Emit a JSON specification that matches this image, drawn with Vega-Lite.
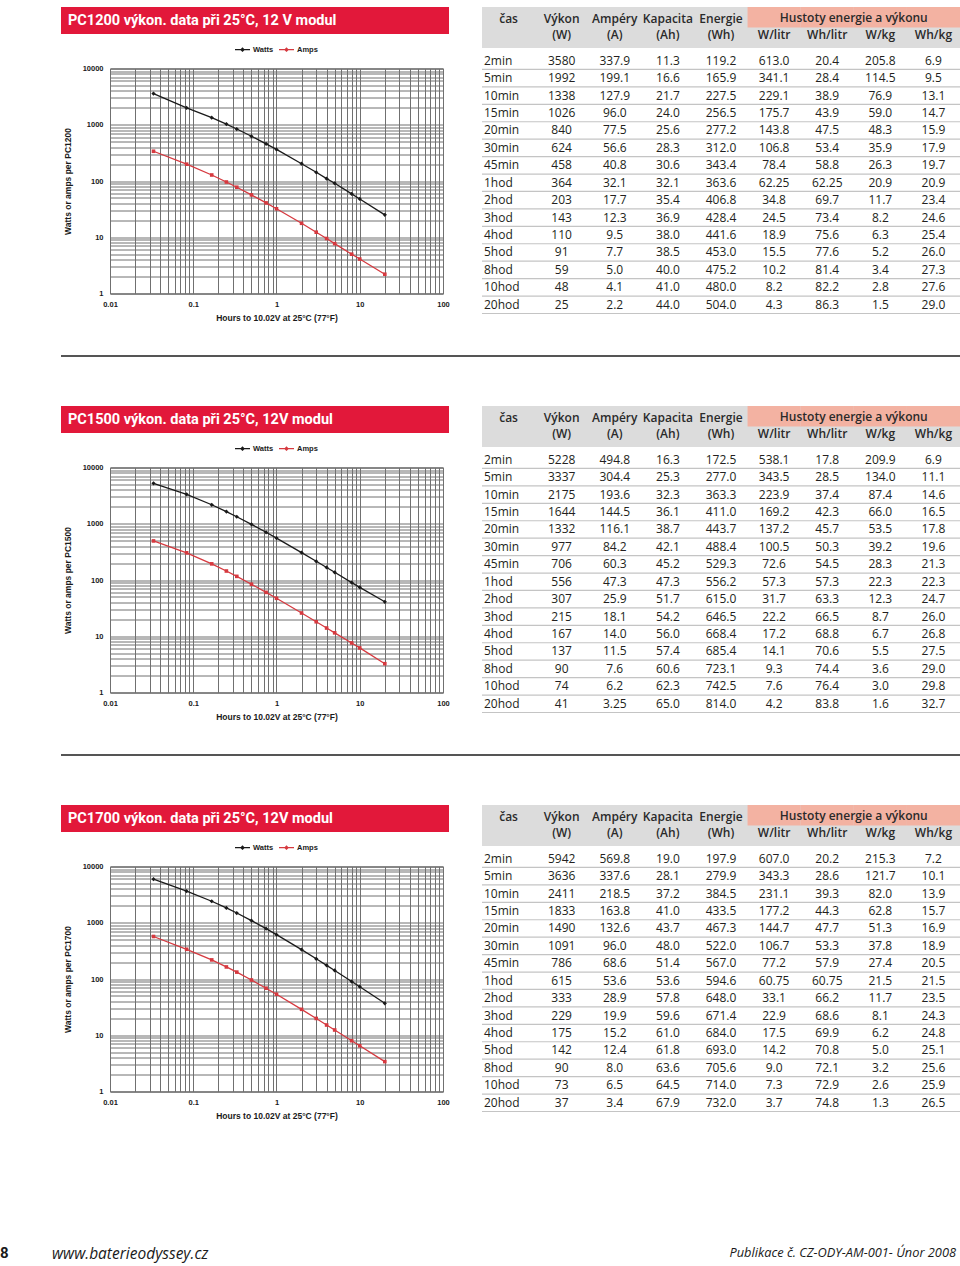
{
"$schema": "https://vega.github.io/schema/vega-lite/v6.json",
"background": "white",
"padding": {"left": 0, "top": 7, "right": 0, "bottom": 0},
"autosize": {"type": "pad"},
"spacing": 33,
"datasets": {
"hdr": [
{"c":"t","l":"a","s":"čas"},{"c":"W","l":"a","s":"Výkon"},{"c":"W","l":"b","s":"(W)"},{"c":"A","l":"a","s":"Ampéry"},{"c":"A","l":"b","s":"(A)"},{"c":"Ah","l":"a","s":"Kapacita"},{"c":"Ah","l":"b","s":"(Ah)"},{"c":"Wh","l":"a","s":"Energie"},{"c":"Wh","l":"b","s":"(Wh)"},{"c":"Wl","l":"b","s":"W/litr"},{"c":"Whl","l":"b","s":"Wh/litr"},{"c":"Wkg","l":"b","s":"W/kg"},{"c":"Whkg","l":"b","s":"Wh/kg"}
],
"pc1200": [
{"t":"2min","h":0.0333,"W":"3580","A":"337.9","Ah":"11.3","Wh":"119.2","Wl":"613.0","Whl":"20.4","Wkg":"205.8","Whkg":"6.9"},
{"t":"5min","h":0.0833,"W":"1992","A":"199.1","Ah":"16.6","Wh":"165.9","Wl":"341.1","Whl":"28.4","Wkg":"114.5","Whkg":"9.5"},
{"t":"10min","h":0.1667,"W":"1338","A":"127.9","Ah":"21.7","Wh":"227.5","Wl":"229.1","Whl":"38.9","Wkg":"76.9","Whkg":"13.1"},
{"t":"15min","h":0.25,"W":"1026","A":"96.0","Ah":"24.0","Wh":"256.5","Wl":"175.7","Whl":"43.9","Wkg":"59.0","Whkg":"14.7"},
{"t":"20min","h":0.3333,"W":"840","A":"77.5","Ah":"25.6","Wh":"277.2","Wl":"143.8","Whl":"47.5","Wkg":"48.3","Whkg":"15.9"},
{"t":"30min","h":0.5,"W":"624","A":"56.6","Ah":"28.3","Wh":"312.0","Wl":"106.8","Whl":"53.4","Wkg":"35.9","Whkg":"17.9"},
{"t":"45min","h":0.75,"W":"458","A":"40.8","Ah":"30.6","Wh":"343.4","Wl":"78.4","Whl":"58.8","Wkg":"26.3","Whkg":"19.7"},
{"t":"1hod","h":1,"W":"364","A":"32.1","Ah":"32.1","Wh":"363.6","Wl":"62.25","Whl":"62.25","Wkg":"20.9","Whkg":"20.9"},
{"t":"2hod","h":2,"W":"203","A":"17.7","Ah":"35.4","Wh":"406.8","Wl":"34.8","Whl":"69.7","Wkg":"11.7","Whkg":"23.4"},
{"t":"3hod","h":3,"W":"143","A":"12.3","Ah":"36.9","Wh":"428.4","Wl":"24.5","Whl":"73.4","Wkg":"8.2","Whkg":"24.6"},
{"t":"4hod","h":4,"W":"110","A":"9.5","Ah":"38.0","Wh":"441.6","Wl":"18.9","Whl":"75.6","Wkg":"6.3","Whkg":"25.4"},
{"t":"5hod","h":5,"W":"91","A":"7.7","Ah":"38.5","Wh":"453.0","Wl":"15.5","Whl":"77.6","Wkg":"5.2","Whkg":"26.0"},
{"t":"8hod","h":8,"W":"59","A":"5.0","Ah":"40.0","Wh":"475.2","Wl":"10.2","Whl":"81.4","Wkg":"3.4","Whkg":"27.3"},
{"t":"10hod","h":10,"W":"48","A":"4.1","Ah":"41.0","Wh":"480.0","Wl":"8.2","Whl":"82.2","Wkg":"2.8","Whkg":"27.6"},
{"t":"20hod","h":20,"W":"25","A":"2.2","Ah":"44.0","Wh":"504.0","Wl":"4.3","Whl":"86.3","Wkg":"1.5","Whkg":"29.0"}
],
"pc1500": [
{"t":"2min","h":0.0333,"W":"5228","A":"494.8","Ah":"16.3","Wh":"172.5","Wl":"538.1","Whl":"17.8","Wkg":"209.9","Whkg":"6.9"},
{"t":"5min","h":0.0833,"W":"3337","A":"304.4","Ah":"25.3","Wh":"277.0","Wl":"343.5","Whl":"28.5","Wkg":"134.0","Whkg":"11.1"},
{"t":"10min","h":0.1667,"W":"2175","A":"193.6","Ah":"32.3","Wh":"363.3","Wl":"223.9","Whl":"37.4","Wkg":"87.4","Whkg":"14.6"},
{"t":"15min","h":0.25,"W":"1644","A":"144.5","Ah":"36.1","Wh":"411.0","Wl":"169.2","Whl":"42.3","Wkg":"66.0","Whkg":"16.5"},
{"t":"20min","h":0.3333,"W":"1332","A":"116.1","Ah":"38.7","Wh":"443.7","Wl":"137.2","Whl":"45.7","Wkg":"53.5","Whkg":"17.8"},
{"t":"30min","h":0.5,"W":"977","A":"84.2","Ah":"42.1","Wh":"488.4","Wl":"100.5","Whl":"50.3","Wkg":"39.2","Whkg":"19.6"},
{"t":"45min","h":0.75,"W":"706","A":"60.3","Ah":"45.2","Wh":"529.3","Wl":"72.6","Whl":"54.5","Wkg":"28.3","Whkg":"21.3"},
{"t":"1hod","h":1,"W":"556","A":"47.3","Ah":"47.3","Wh":"556.2","Wl":"57.3","Whl":"57.3","Wkg":"22.3","Whkg":"22.3"},
{"t":"2hod","h":2,"W":"307","A":"25.9","Ah":"51.7","Wh":"615.0","Wl":"31.7","Whl":"63.3","Wkg":"12.3","Whkg":"24.7"},
{"t":"3hod","h":3,"W":"215","A":"18.1","Ah":"54.2","Wh":"646.5","Wl":"22.2","Whl":"66.5","Wkg":"8.7","Whkg":"26.0"},
{"t":"4hod","h":4,"W":"167","A":"14.0","Ah":"56.0","Wh":"668.4","Wl":"17.2","Whl":"68.8","Wkg":"6.7","Whkg":"26.8"},
{"t":"5hod","h":5,"W":"137","A":"11.5","Ah":"57.4","Wh":"685.4","Wl":"14.1","Whl":"70.6","Wkg":"5.5","Whkg":"27.5"},
{"t":"8hod","h":8,"W":"90","A":"7.6","Ah":"60.6","Wh":"723.1","Wl":"9.3","Whl":"74.4","Wkg":"3.6","Whkg":"29.0"},
{"t":"10hod","h":10,"W":"74","A":"6.2","Ah":"62.3","Wh":"742.5","Wl":"7.6","Whl":"76.4","Wkg":"3.0","Whkg":"29.8"},
{"t":"20hod","h":20,"W":"41","A":"3.25","Ah":"65.0","Wh":"814.0","Wl":"4.2","Whl":"83.8","Wkg":"1.6","Whkg":"32.7"}
],
"pc1700": [
{"t":"2min","h":0.0333,"W":"5942","A":"569.8","Ah":"19.0","Wh":"197.9","Wl":"607.0","Whl":"20.2","Wkg":"215.3","Whkg":"7.2"},
{"t":"5min","h":0.0833,"W":"3636","A":"337.6","Ah":"28.1","Wh":"279.9","Wl":"343.3","Whl":"28.6","Wkg":"121.7","Whkg":"10.1"},
{"t":"10min","h":0.1667,"W":"2411","A":"218.5","Ah":"37.2","Wh":"384.5","Wl":"231.1","Whl":"39.3","Wkg":"82.0","Whkg":"13.9"},
{"t":"15min","h":0.25,"W":"1833","A":"163.8","Ah":"41.0","Wh":"433.5","Wl":"177.2","Whl":"44.3","Wkg":"62.8","Whkg":"15.7"},
{"t":"20min","h":0.3333,"W":"1490","A":"132.6","Ah":"43.7","Wh":"467.3","Wl":"144.7","Whl":"47.7","Wkg":"51.3","Whkg":"16.9"},
{"t":"30min","h":0.5,"W":"1091","A":"96.0","Ah":"48.0","Wh":"522.0","Wl":"106.7","Whl":"53.3","Wkg":"37.8","Whkg":"18.9"},
{"t":"45min","h":0.75,"W":"786","A":"68.6","Ah":"51.4","Wh":"567.0","Wl":"77.2","Whl":"57.9","Wkg":"27.4","Whkg":"20.5"},
{"t":"1hod","h":1,"W":"615","A":"53.6","Ah":"53.6","Wh":"594.6","Wl":"60.75","Whl":"60.75","Wkg":"21.5","Whkg":"21.5"},
{"t":"2hod","h":2,"W":"333","A":"28.9","Ah":"57.8","Wh":"648.0","Wl":"33.1","Whl":"66.2","Wkg":"11.7","Whkg":"23.5"},
{"t":"3hod","h":3,"W":"229","A":"19.9","Ah":"59.6","Wh":"671.4","Wl":"22.9","Whl":"68.6","Wkg":"8.1","Whkg":"24.3"},
{"t":"4hod","h":4,"W":"175","A":"15.2","Ah":"61.0","Wh":"684.0","Wl":"17.5","Whl":"69.9","Wkg":"6.2","Whkg":"24.8"},
{"t":"5hod","h":5,"W":"142","A":"12.4","Ah":"61.8","Wh":"693.0","Wl":"14.2","Whl":"70.8","Wkg":"5.0","Whkg":"25.1"},
{"t":"8hod","h":8,"W":"90","A":"8.0","Ah":"63.6","Wh":"705.6","Wl":"9.0","Whl":"72.1","Wkg":"3.2","Whkg":"25.6"},
{"t":"10hod","h":10,"W":"73","A":"6.5","Ah":"64.5","Wh":"714.0","Wl":"7.3","Whl":"72.9","Wkg":"2.6","Whkg":"25.9"},
{"t":"20hod","h":20,"W":"37","A":"3.4","Ah":"67.9","Wh":"732.0","Wl":"3.7","Whl":"74.8","Wkg":"1.3","Whkg":"26.5"}
]
},
"vconcat": [
{"spacing": 31, "hconcat": [
 {"width": 30, "height": 1, "data": {"values": [{}]}, "mark": {"type": "text", "text": "", "fontSize": 1, "baseline": "top"}},
 {"spacing": 6.5, "vconcat": [
  {"width": 388, "height": 27, "view": {"fill": "#e2183a", "stroke": null}, "data": {"values": [{"s": "PC1200 výkon. data při 25°C, 12 V modul"}]},
   "mark": {"type": "text", "align": "left", "baseline": "middle", "dx": 7, "color": "white", "font": "Liberation Sans Narrow, Roboto, sans-serif", "fontSize": 14.5, "fontWeight": "bold"},
   "encoding": {"text": {"field": "s"}, "x": {"datum": 0, "type": "quantitative", "scale": {"domain": [0, 1], "nice": false}, "axis": null}, "y": {"datum": 0.5, "type": "quantitative", "scale": {"domain": [0, 1], "nice": false}, "axis": null}}},
  {"spacing": 0, "resolve": {"scale": {"color": "independent"}, "legend": {"color": "independent"}}, "hconcat": [
  {"width": 1, "height": 1, "data": {"values": [{}]}, "mark": {"type": "text", "text": "", "fontSize": 1, "baseline": "top"}},
  {"width": 333, "height": 225, "view": {"stroke": "#3a3a3a", "strokeWidth": 1, "fill": "white"}, "data": {"name": "pc1200"},
   "transform": [{"fold": ["W", "A"], "as": ["ser", "val"]}],
   "encoding": {
    "x": {"field": "h", "type": "quantitative", "scale": {"type": "log", "domain": [0.01, 100], "nice": false},
     "axis": {"values": [0.01,0.02,0.03,0.04,0.05,0.06,0.07,0.08,0.09,0.1,0.2,0.3,0.4,0.5,0.6,0.7,0.8,0.9,1,2,3,4,5,6,7,8,9,10,20,30,40,50,60,70,80,90,100], "labelExpr": "indexof([0.01,0.1,1,10,100], datum.value) >= 0 ? datum.value + '' : ''", "title": "Hours to 10.02V at 25°C (77°F)"}},
    "y": {"field": "val", "type": "quantitative", "scale": {"type": "log", "domain": [1, 10000], "nice": false},
     "axis": {"values": [1,2,3,4,5,6,7,8,9,10,20,30,40,50,60,70,80,90,100,200,300,400,500,600,700,800,900,1000,2000,3000,4000,5000,6000,7000,8000,9000,10000], "labelExpr": "indexof([1,10,100,1000,10000], datum.value) >= 0 ? datum.value + '' : ''", "title": "Watts or amps per PC1200"}}
   },
   "layer": [
    {"mark": {"type": "line", "strokeWidth": 1.3}, "encoding": {"color": {"field": "ser", "type": "nominal", "scale": {"domain": ["W", "A"], "range": ["#1a1a1a", "#d6393f"]},
     "legend": {"orient": "none", "legendX": 124, "legendY": -27.5, "direction": "horizontal", "title": null, "padding": 0, "labelExpr": "datum.value == 'W' ? 'Watts' : 'Amps'", "labelFont": "Liberation Sans", "labelFontSize": 7.5, "labelFontWeight": "bold", "labelColor": "#1a1a1a", "symbolSize": 225, "symbolType": "M-1,0H1M0,-0.2L0.2,0L0,0.2L-0.2,0Z", "symbolStrokeWidth": 1.3, "labelOffset": 2, "columnPadding": 2}}}},
    {"transform": [{"filter": "datum.ser == 'W'"}], "mark": {"type": "point", "shape": "diamond", "filled": true, "opacity": 1, "size": 18, "color": "#1a1a1a"}},
    {"transform": [{"filter": "datum.ser == 'A'"}], "mark": {"type": "point", "shape": "square", "filled": true, "opacity": 1, "size": 13, "color": "#d6393f"}}
   ]}
  ]}
 ]},
 {"spacing": 4, "vconcat": [
  {"width": 478, "height": 41, "view": {"fill": "#dcdcdc", "stroke": null}, "data": {"name": "hdr"},
   "encoding": {"x": {"field": "c", "type": "nominal", "scale": {"type": "band", "domain": ["t","W","A","Ah","Wh","Wl","Whl","Wkg","Whkg"], "paddingInner": 0, "paddingOuter": 0}, "axis": null},
    "y": {"field": "l", "type": "nominal", "scale": {"type": "band", "domain": ["a", "b"], "paddingInner": 0, "paddingOuter": 0}, "axis": null}},
   "layer": [
    {"transform": [{"filter": "datum.l == 'b' && indexof(['Wl','Whl','Wkg','Whkg'], datum.c) >= 0"}], "mark": {"type": "rect", "color": "#f3b2a2"}, "encoding": {"y": {"datum": "a"}}},
    {"transform": [{"filter": "datum.l == 'a'"}], "mark": {"type": "text", "font": "Open Sans", "fontSize": 12, "fontWeight": 600, "color": "#2a2a2a", "baseline": "middle", "dy": 2}, "encoding": {"text": {"field": "s"}}},
    {"transform": [{"filter": "datum.l == 'b'"}], "mark": {"type": "text", "font": "Open Sans", "fontSize": 12, "fontWeight": 600, "color": "#2a2a2a", "baseline": "middle", "dy": -2.5}, "encoding": {"text": {"field": "s"}}},
    {"data": {"values": [{"s": "Hustoty energie a výkonu"}]}, "mark": {"type": "text", "font": "Open Sans", "fontSize": 12, "fontWeight": 600, "color": "#2a2a2a", "baseline": "middle", "dy": 0.5}, "encoding": {"x": {"datum": "Wkg", "bandPosition": 0}, "y": {"datum": "a"}, "text": {"field": "s"}}}
   ]},
  {"width": 478, "height": 261.5, "data": {"name": "pc1200"},
   "encoding": {"y": {"field": "t", "type": "nominal", "scale": {"type": "band", "domain": ["2min","5min","10min","15min","20min","30min","45min","1hod","2hod","3hod","4hod","5hod","8hod","10hod","20hod"], "paddingInner": 0, "paddingOuter": 0}, "axis": null}},
   "layer": [
    {"mark": {"type": "rule", "color": "#c4c4c4", "strokeWidth": 1.2}, "encoding": {"y": {"field": "t", "type": "nominal", "bandPosition": 1}}},
    {"mark": {"type": "text", "align": "left", "dx": 2, "baseline": "middle", "font": "Open Sans", "fontSize": 12, "color": "#231f20"}, "encoding": {"x": {"datum": "t", "bandPosition": 0, "scale": {"type": "band", "domain": ["t","W","A","Ah","Wh","Wl","Whl","Wkg","Whkg"], "paddingInner": 0, "paddingOuter": 0}, "axis": null}, "text": {"field": "t"}}},
    {"transform": [{"fold": ["W","A","Ah","Wh","Wl","Whl","Wkg","Whkg"], "as": ["k", "v"]}], "mark": {"type": "text", "baseline": "middle", "font": "Open Sans", "fontSize": 12, "color": "#231f20"}, "encoding": {"x": {"field": "k", "type": "nominal", "scale": {"type": "band", "domain": ["t","W","A","Ah","Wh","Wl","Whl","Wkg","Whkg"], "paddingInner": 0, "paddingOuter": 0}, "axis": null}, "text": {"field": "v"}}}
   ]}
 ]}
]},
{"spacing": 31, "hconcat": [
 {"width": 29, "height": 1, "data": {"values": [{}]}, "mark": {"type": "text", "text": "", "fontSize": 1, "baseline": "top"}},
 {"width": 900, "height": 17, "data": {"values": [{}]}, "mark": {"type": "rule", "color": "#555555", "strokeWidth": 2}, "encoding": {"y": {"datum": 1, "type": "quantitative", "scale": {"domain": [0, 1], "nice": false}, "axis": null}}}
]},
{"spacing": 31, "hconcat": [
 {"width": 30, "height": 1, "data": {"values": [{}]}, "mark": {"type": "text", "text": "", "fontSize": 1, "baseline": "top"}},
 {"spacing": 6.5, "vconcat": [
  {"width": 388, "height": 27, "view": {"fill": "#e2183a", "stroke": null}, "data": {"values": [{"s": "PC1500 výkon. data při 25°C, 12V modul"}]},
   "mark": {"type": "text", "align": "left", "baseline": "middle", "dx": 7, "color": "white", "font": "Liberation Sans Narrow, Roboto, sans-serif", "fontSize": 14.5, "fontWeight": "bold"},
   "encoding": {"text": {"field": "s"}, "x": {"datum": 0, "type": "quantitative", "scale": {"domain": [0, 1], "nice": false}, "axis": null}, "y": {"datum": 0.5, "type": "quantitative", "scale": {"domain": [0, 1], "nice": false}, "axis": null}}},
  {"spacing": 0, "resolve": {"scale": {"color": "independent"}, "legend": {"color": "independent"}}, "hconcat": [
  {"width": 1, "height": 1, "data": {"values": [{}]}, "mark": {"type": "text", "text": "", "fontSize": 1, "baseline": "top"}},
  {"width": 333, "height": 225, "view": {"stroke": "#3a3a3a", "strokeWidth": 1, "fill": "white"}, "data": {"name": "pc1500"},
   "transform": [{"fold": ["W", "A"], "as": ["ser", "val"]}],
   "encoding": {
    "x": {"field": "h", "type": "quantitative", "scale": {"type": "log", "domain": [0.01, 100], "nice": false},
     "axis": {"values": [0.01,0.02,0.03,0.04,0.05,0.06,0.07,0.08,0.09,0.1,0.2,0.3,0.4,0.5,0.6,0.7,0.8,0.9,1,2,3,4,5,6,7,8,9,10,20,30,40,50,60,70,80,90,100], "labelExpr": "indexof([0.01,0.1,1,10,100], datum.value) >= 0 ? datum.value + '' : ''", "title": "Hours to 10.02V at 25°C (77°F)"}},
    "y": {"field": "val", "type": "quantitative", "scale": {"type": "log", "domain": [1, 10000], "nice": false},
     "axis": {"values": [1,2,3,4,5,6,7,8,9,10,20,30,40,50,60,70,80,90,100,200,300,400,500,600,700,800,900,1000,2000,3000,4000,5000,6000,7000,8000,9000,10000], "labelExpr": "indexof([1,10,100,1000,10000], datum.value) >= 0 ? datum.value + '' : ''", "title": "Watts or amps per PC1500"}}
   },
   "layer": [
    {"mark": {"type": "line", "strokeWidth": 1.3}, "encoding": {"color": {"field": "ser", "type": "nominal", "scale": {"domain": ["W", "A"], "range": ["#1a1a1a", "#d6393f"]},
     "legend": {"orient": "none", "legendX": 124, "legendY": -27.5, "direction": "horizontal", "title": null, "padding": 0, "labelExpr": "datum.value == 'W' ? 'Watts' : 'Amps'", "labelFont": "Liberation Sans", "labelFontSize": 7.5, "labelFontWeight": "bold", "labelColor": "#1a1a1a", "symbolSize": 225, "symbolType": "M-1,0H1M0,-0.2L0.2,0L0,0.2L-0.2,0Z", "symbolStrokeWidth": 1.3, "labelOffset": 2, "columnPadding": 2}}}},
    {"transform": [{"filter": "datum.ser == 'W'"}], "mark": {"type": "point", "shape": "diamond", "filled": true, "opacity": 1, "size": 18, "color": "#1a1a1a"}},
    {"transform": [{"filter": "datum.ser == 'A'"}], "mark": {"type": "point", "shape": "square", "filled": true, "opacity": 1, "size": 13, "color": "#d6393f"}}
   ]}
  ]}
 ]},
 {"spacing": 4, "vconcat": [
  {"width": 478, "height": 41, "view": {"fill": "#dcdcdc", "stroke": null}, "data": {"name": "hdr"},
   "encoding": {"x": {"field": "c", "type": "nominal", "scale": {"type": "band", "domain": ["t","W","A","Ah","Wh","Wl","Whl","Wkg","Whkg"], "paddingInner": 0, "paddingOuter": 0}, "axis": null},
    "y": {"field": "l", "type": "nominal", "scale": {"type": "band", "domain": ["a", "b"], "paddingInner": 0, "paddingOuter": 0}, "axis": null}},
   "layer": [
    {"transform": [{"filter": "datum.l == 'b' && indexof(['Wl','Whl','Wkg','Whkg'], datum.c) >= 0"}], "mark": {"type": "rect", "color": "#f3b2a2"}, "encoding": {"y": {"datum": "a"}}},
    {"transform": [{"filter": "datum.l == 'a'"}], "mark": {"type": "text", "font": "Open Sans", "fontSize": 12, "fontWeight": 600, "color": "#2a2a2a", "baseline": "middle", "dy": 2}, "encoding": {"text": {"field": "s"}}},
    {"transform": [{"filter": "datum.l == 'b'"}], "mark": {"type": "text", "font": "Open Sans", "fontSize": 12, "fontWeight": 600, "color": "#2a2a2a", "baseline": "middle", "dy": -2.5}, "encoding": {"text": {"field": "s"}}},
    {"data": {"values": [{"s": "Hustoty energie a výkonu"}]}, "mark": {"type": "text", "font": "Open Sans", "fontSize": 12, "fontWeight": 600, "color": "#2a2a2a", "baseline": "middle", "dy": 0.5}, "encoding": {"x": {"datum": "Wkg", "bandPosition": 0}, "y": {"datum": "a"}, "text": {"field": "s"}}}
   ]},
  {"width": 478, "height": 261.5, "data": {"name": "pc1500"},
   "encoding": {"y": {"field": "t", "type": "nominal", "scale": {"type": "band", "domain": ["2min","5min","10min","15min","20min","30min","45min","1hod","2hod","3hod","4hod","5hod","8hod","10hod","20hod"], "paddingInner": 0, "paddingOuter": 0}, "axis": null}},
   "layer": [
    {"mark": {"type": "rule", "color": "#c4c4c4", "strokeWidth": 1.2}, "encoding": {"y": {"field": "t", "type": "nominal", "bandPosition": 1}}},
    {"mark": {"type": "text", "align": "left", "dx": 2, "baseline": "middle", "font": "Open Sans", "fontSize": 12, "color": "#231f20"}, "encoding": {"x": {"datum": "t", "bandPosition": 0, "scale": {"type": "band", "domain": ["t","W","A","Ah","Wh","Wl","Whl","Wkg","Whkg"], "paddingInner": 0, "paddingOuter": 0}, "axis": null}, "text": {"field": "t"}}},
    {"transform": [{"fold": ["W","A","Ah","Wh","Wl","Whl","Wkg","Whkg"], "as": ["k", "v"]}], "mark": {"type": "text", "baseline": "middle", "font": "Open Sans", "fontSize": 12, "color": "#231f20"}, "encoding": {"x": {"field": "k", "type": "nominal", "scale": {"type": "band", "domain": ["t","W","A","Ah","Wh","Wl","Whl","Wkg","Whkg"], "paddingInner": 0, "paddingOuter": 0}, "axis": null}, "text": {"field": "v"}}}
   ]}
 ]}
]},
{"spacing": 31, "hconcat": [
 {"width": 29, "height": 1, "data": {"values": [{}]}, "mark": {"type": "text", "text": "", "fontSize": 1, "baseline": "top"}},
 {"width": 900, "height": 17, "data": {"values": [{}]}, "mark": {"type": "rule", "color": "#555555", "strokeWidth": 2}, "encoding": {"y": {"datum": 1, "type": "quantitative", "scale": {"domain": [0, 1], "nice": false}, "axis": null}}}
]},
{"spacing": 31, "hconcat": [
 {"width": 30, "height": 1, "data": {"values": [{}]}, "mark": {"type": "text", "text": "", "fontSize": 1, "baseline": "top"}},
 {"spacing": 6.5, "vconcat": [
  {"width": 388, "height": 27, "view": {"fill": "#e2183a", "stroke": null}, "data": {"values": [{"s": "PC1700 výkon. data při 25°C, 12V modul"}]},
   "mark": {"type": "text", "align": "left", "baseline": "middle", "dx": 7, "color": "white", "font": "Liberation Sans Narrow, Roboto, sans-serif", "fontSize": 14.5, "fontWeight": "bold"},
   "encoding": {"text": {"field": "s"}, "x": {"datum": 0, "type": "quantitative", "scale": {"domain": [0, 1], "nice": false}, "axis": null}, "y": {"datum": 0.5, "type": "quantitative", "scale": {"domain": [0, 1], "nice": false}, "axis": null}}},
  {"spacing": 0, "resolve": {"scale": {"color": "independent"}, "legend": {"color": "independent"}}, "hconcat": [
  {"width": 1, "height": 1, "data": {"values": [{}]}, "mark": {"type": "text", "text": "", "fontSize": 1, "baseline": "top"}},
  {"width": 333, "height": 225, "view": {"stroke": "#3a3a3a", "strokeWidth": 1, "fill": "white"}, "data": {"name": "pc1700"},
   "transform": [{"fold": ["W", "A"], "as": ["ser", "val"]}],
   "encoding": {
    "x": {"field": "h", "type": "quantitative", "scale": {"type": "log", "domain": [0.01, 100], "nice": false},
     "axis": {"values": [0.01,0.02,0.03,0.04,0.05,0.06,0.07,0.08,0.09,0.1,0.2,0.3,0.4,0.5,0.6,0.7,0.8,0.9,1,2,3,4,5,6,7,8,9,10,20,30,40,50,60,70,80,90,100], "labelExpr": "indexof([0.01,0.1,1,10,100], datum.value) >= 0 ? datum.value + '' : ''", "title": "Hours to 10.02V at 25°C (77°F)"}},
    "y": {"field": "val", "type": "quantitative", "scale": {"type": "log", "domain": [1, 10000], "nice": false},
     "axis": {"values": [1,2,3,4,5,6,7,8,9,10,20,30,40,50,60,70,80,90,100,200,300,400,500,600,700,800,900,1000,2000,3000,4000,5000,6000,7000,8000,9000,10000], "labelExpr": "indexof([1,10,100,1000,10000], datum.value) >= 0 ? datum.value + '' : ''", "title": "Watts or amps per PC1700"}}
   },
   "layer": [
    {"mark": {"type": "line", "strokeWidth": 1.3}, "encoding": {"color": {"field": "ser", "type": "nominal", "scale": {"domain": ["W", "A"], "range": ["#1a1a1a", "#d6393f"]},
     "legend": {"orient": "none", "legendX": 124, "legendY": -27.5, "direction": "horizontal", "title": null, "padding": 0, "labelExpr": "datum.value == 'W' ? 'Watts' : 'Amps'", "labelFont": "Liberation Sans", "labelFontSize": 7.5, "labelFontWeight": "bold", "labelColor": "#1a1a1a", "symbolSize": 225, "symbolType": "M-1,0H1M0,-0.2L0.2,0L0,0.2L-0.2,0Z", "symbolStrokeWidth": 1.3, "labelOffset": 2, "columnPadding": 2}}}},
    {"transform": [{"filter": "datum.ser == 'W'"}], "mark": {"type": "point", "shape": "diamond", "filled": true, "opacity": 1, "size": 18, "color": "#1a1a1a"}},
    {"transform": [{"filter": "datum.ser == 'A'"}], "mark": {"type": "point", "shape": "square", "filled": true, "opacity": 1, "size": 13, "color": "#d6393f"}}
   ]}
  ]}
 ]},
 {"spacing": 4, "vconcat": [
  {"width": 478, "height": 41, "view": {"fill": "#dcdcdc", "stroke": null}, "data": {"name": "hdr"},
   "encoding": {"x": {"field": "c", "type": "nominal", "scale": {"type": "band", "domain": ["t","W","A","Ah","Wh","Wl","Whl","Wkg","Whkg"], "paddingInner": 0, "paddingOuter": 0}, "axis": null},
    "y": {"field": "l", "type": "nominal", "scale": {"type": "band", "domain": ["a", "b"], "paddingInner": 0, "paddingOuter": 0}, "axis": null}},
   "layer": [
    {"transform": [{"filter": "datum.l == 'b' && indexof(['Wl','Whl','Wkg','Whkg'], datum.c) >= 0"}], "mark": {"type": "rect", "color": "#f3b2a2"}, "encoding": {"y": {"datum": "a"}}},
    {"transform": [{"filter": "datum.l == 'a'"}], "mark": {"type": "text", "font": "Open Sans", "fontSize": 12, "fontWeight": 600, "color": "#2a2a2a", "baseline": "middle", "dy": 2}, "encoding": {"text": {"field": "s"}}},
    {"transform": [{"filter": "datum.l == 'b'"}], "mark": {"type": "text", "font": "Open Sans", "fontSize": 12, "fontWeight": 600, "color": "#2a2a2a", "baseline": "middle", "dy": -2.5}, "encoding": {"text": {"field": "s"}}},
    {"data": {"values": [{"s": "Hustoty energie a výkonu"}]}, "mark": {"type": "text", "font": "Open Sans", "fontSize": 12, "fontWeight": 600, "color": "#2a2a2a", "baseline": "middle", "dy": 0.5}, "encoding": {"x": {"datum": "Wkg", "bandPosition": 0}, "y": {"datum": "a"}, "text": {"field": "s"}}}
   ]},
  {"width": 478, "height": 261.5, "data": {"name": "pc1700"},
   "encoding": {"y": {"field": "t", "type": "nominal", "scale": {"type": "band", "domain": ["2min","5min","10min","15min","20min","30min","45min","1hod","2hod","3hod","4hod","5hod","8hod","10hod","20hod"], "paddingInner": 0, "paddingOuter": 0}, "axis": null}},
   "layer": [
    {"mark": {"type": "rule", "color": "#c4c4c4", "strokeWidth": 1.2}, "encoding": {"y": {"field": "t", "type": "nominal", "bandPosition": 1}}},
    {"mark": {"type": "text", "align": "left", "dx": 2, "baseline": "middle", "font": "Open Sans", "fontSize": 12, "color": "#231f20"}, "encoding": {"x": {"datum": "t", "bandPosition": 0, "scale": {"type": "band", "domain": ["t","W","A","Ah","Wh","Wl","Whl","Wkg","Whkg"], "paddingInner": 0, "paddingOuter": 0}, "axis": null}, "text": {"field": "t"}}},
    {"transform": [{"fold": ["W","A","Ah","Wh","Wl","Whl","Wkg","Whkg"], "as": ["k", "v"]}], "mark": {"type": "text", "baseline": "middle", "font": "Open Sans", "fontSize": 12, "color": "#231f20"}, "encoding": {"x": {"field": "k", "type": "nominal", "scale": {"type": "band", "domain": ["t","W","A","Ah","Wh","Wl","Whl","Wkg","Whkg"], "paddingInner": 0, "paddingOuter": 0}, "axis": null}, "text": {"field": "v"}}}
   ]}
 ]}
]},
{"width": 960, "height": 106, "data": {"values": [{}]},
 "encoding": {"y": {"datum": 0, "type": "quantitative", "scale": {"domain": [0, 1], "nice": false}, "axis": null}},
 "layer": [
  {"mark": {"type": "text", "text": "8", "align": "left", "baseline": "alphabetic", "font": "Liberation Sans Narrow, Roboto, sans-serif", "fontSize": 15, "fontWeight": "bold", "color": "#1a1a1a", "dy": -1}, "encoding": {"x": {"datum": 0, "type": "quantitative", "scale": {"domain": [0, 960], "nice": false}, "axis": null}}},
  {"mark": {"type": "text", "text": "www.baterieodyssey.cz", "align": "left", "baseline": "alphabetic", "font": "Open Sans", "fontSize": 15.5, "fontStyle": "italic", "color": "#1a1a1a"}, "encoding": {"x": {"datum": 52, "type": "quantitative"}}},
  {"mark": {"type": "text", "text": "Publikace č. CZ-ODY-AM-001- Únor 2008", "align": "right", "baseline": "alphabetic", "font": "Open Sans", "fontSize": 12.8, "fontStyle": "italic", "color": "#1a1a1a", "dy": -2}, "encoding": {"x": {"datum": 956, "type": "quantitative"}}}
 ]}
],
"config": {
 "view": {"stroke": null},
 "axis": {"grid": true, "gridColor": "#707070", "gridWidth": 1, "gridOpacity": 1, "ticks": false, "domain": false, "labelFont": "Liberation Sans", "labelFontSize": 7.5, "labelFontWeight": "bold", "labelColor": "#1a1a1a", "labelOverlap": false, "labelFlush": false, "titleFont": "Liberation Sans", "titleFontSize": 8.5, "titleFontWeight": "bold", "titleColor": "#1a1a1a"},
 "axisX": {"labelPadding": 7, "titlePadding": 5},
 "axisY": {"labelPadding": 7, "titlePadding": 10}
}
}
